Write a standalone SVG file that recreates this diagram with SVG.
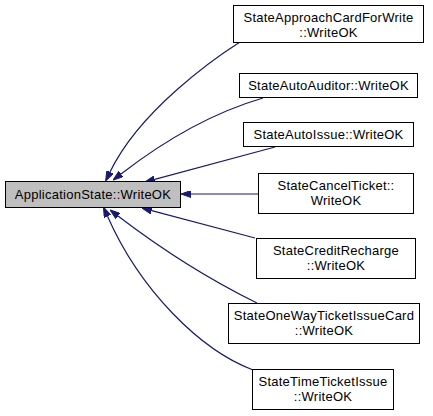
<svg xmlns="http://www.w3.org/2000/svg" width="433" height="416" viewBox="0 0 433 416">
<style>
.node rect{fill:#ffffff;stroke:#000000;stroke-width:1}
.node.main rect{fill:#bfbfbf}
.node text{font-family:"Liberation Sans",Arial,sans-serif;font-size:13px;letter-spacing:0.25px;fill:#000000;text-anchor:middle}
.edge{fill:none;stroke:#191970;stroke-width:1.2;marker-end:url(#arrow)}
</style>
<defs>
<marker id="arrow" viewBox="0 0 10 7" markerWidth="10" markerHeight="7" refX="0" refY="3.5" orient="auto" markerUnits="userSpaceOnUse">
<path d="M0,0 L10,3.5 L0,7 z" fill="#191970" stroke="#191970" stroke-width="1"/>
</marker>
</defs>
<rect width="433" height="416" fill="#ffffff"/>
<g id="connectors">
<path class="edge" d="M240,42 C215,58 140,110 110,172"/>
<path class="edge" d="M263,98 C215,112 165,140 121,174"/>
<path class="edge" d="M275,147 L154.7,179.4"/>
<path class="edge" d="M258,194 L191,194"/>
<path class="edge" d="M255,238 L151.7,210.6"/>
<path class="edge" d="M257,303 C210,280 160,248 118,216"/>
<path class="edge" d="M253,370 C200,350 140,290 107.5,216.3"/>
</g>
<g id="ApplicationState_WriteOK" class="node main">
<rect x="5.5" y="181.5" width="175" height="26"/>
<text x="93" y="198.5">ApplicationState::WriteOK</text>
</g>
<g id="StateApproachCardForWrite_WriteOK" class="node">
<rect x="233.5" y="5.5" width="190" height="37"/>
<text x="328.5" y="22">StateApproachCardForWrite</text>
<text x="328.5" y="37">::WriteOK</text>
</g>
<g id="StateAutoAuditor_WriteOK" class="node">
<rect x="239.5" y="73.5" width="178" height="24"/>
<text x="328.5" y="90">StateAutoAuditor::WriteOK</text>
</g>
<g id="StateAutoIssue_WriteOK" class="node">
<rect x="243.5" y="122.5" width="170" height="24"/>
<text x="328.5" y="139">StateAutoIssue::WriteOK</text>
</g>
<g id="StateCancelTicket_WriteOK" class="node">
<rect x="258.5" y="173.5" width="155" height="40"/>
<text x="336" y="190">StateCancelTicket::</text>
<text x="336" y="205">WriteOK</text>
</g>
<g id="StateCreditRecharge_WriteOK" class="node">
<rect x="256.5" y="238.5" width="159" height="40"/>
<text x="336" y="255">StateCreditRecharge</text>
<text x="336" y="270">::WriteOK</text>
</g>
<g id="StateOneWayTicketIssueCard_WriteOK" class="node">
<rect x="228.5" y="303.5" width="191" height="40"/>
<text x="324" y="320">StateOneWayTicketIssueCard</text>
<text x="324" y="335">::WriteOK</text>
</g>
<g id="StateTimeTicketIssue_WriteOK" class="node">
<rect x="252.5" y="369.5" width="141" height="40"/>
<text x="323" y="386">StateTimeTicketIssue</text>
<text x="323" y="401">::WriteOK</text>
</g>
</svg>
